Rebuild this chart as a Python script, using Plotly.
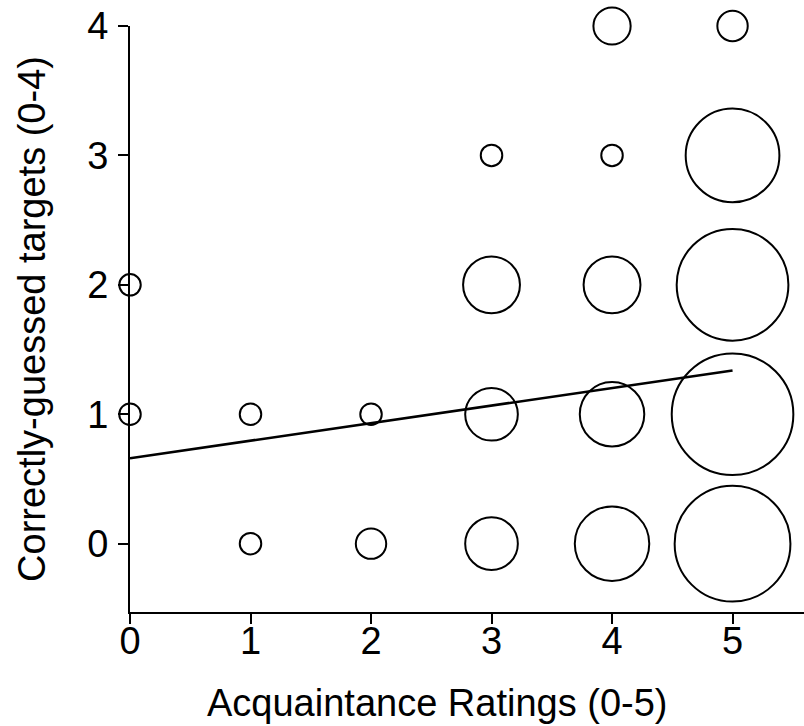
import numpy as np
import plotly.graph_objects as go

# Acquaintance rating (x), correctly-guessed targets (y), number of observations (bubble size)
acq_rating = [0, 0, 1, 1, 2, 2, 3, 3, 3, 3, 4, 4, 4, 4, 4, 5, 5, 5, 5, 5]
correct_targets = [1, 2, 0, 1, 0, 1, 0, 1, 2, 3, 0, 1, 2, 3, 4, 0, 1, 2, 3, 4]
counts = [1, 1, 1, 1, 2, 1, 6, 6, 7, 1, 12, 9, 7, 1, 3, 29, 32, 27, 19, 2]

# Fitted regression line
fit_x = [0, 5]
fit_y = [0.66, 1.338]

x_ticks = [0, 1, 2, 3, 4, 5]
y_ticks = [0, 1, 2, 3, 4]

FONT = "Liberation Sans, Arial, Helvetica, sans-serif"
D1 = 21.5  # diameter (px) of a single-observation bubble

fig = go.Figure()
fig.add_trace(go.Scatter(
    x=acq_rating, y=correct_targets, mode="markers",
    marker=dict(size=counts, sizemode="area", sizeref=2 / D1 ** 2,
                symbol="circle-open", color="black", opacity=1,
                line=dict(color="black", width=2)),
    cliponaxis=False, showlegend=False, hoverinfo="x+y+text", text=counts,
))
fig.add_trace(go.Scatter(
    x=fit_x, y=fit_y, mode="lines",
    line=dict(color="black", width=2.6), cliponaxis=False, showlegend=False,
))

fig.update_layout(
    width=804, height=726,
    margin=dict(l=130, r=0, t=26, b=114, autoexpand=False),
    paper_bgcolor="white", plot_bgcolor="white",
    font=dict(family=FONT, color="black", size=38),
    annotations=[dict(
        text="Acquaintance Ratings (0-5)", xref="paper", yref="paper",
        x=0.4555, y=0, xanchor="center", yanchor="middle", yshift=-91,
        showarrow=False, font=dict(size=38, color="black"),
    )],
)
fig.update_xaxes(
    range=[0, 5.593], tickvals=x_ticks, ticktext=[str(v) for v in x_ticks],
    showgrid=False, zeroline=False, showline=True, linecolor="black", linewidth=1.8,
    ticks="outside", ticklen=10, tickwidth=1.6, tickcolor="black",
    tickfont=dict(size=38), automargin=False, ticklabelstandoff=-16,
)
fig.update_yaxes(
    range=[-0.528, 4.0], tickvals=y_ticks, ticktext=[str(v) for v in y_ticks],
    showgrid=False, zeroline=False, showline=True, linecolor="black", linewidth=1.8,
    ticks="outside", ticklen=10, tickwidth=1.6, tickcolor="black",
    tickfont=dict(size=38), automargin=False, ticklabelstandoff=2,
    title=dict(text="Correctly-guessed targets (0-4)", font=dict(size=38), standoff=30),
)

fig.write_html("out.html", config={"displayModeBar": False},
               post_script="document.body.style.margin='0px';")
